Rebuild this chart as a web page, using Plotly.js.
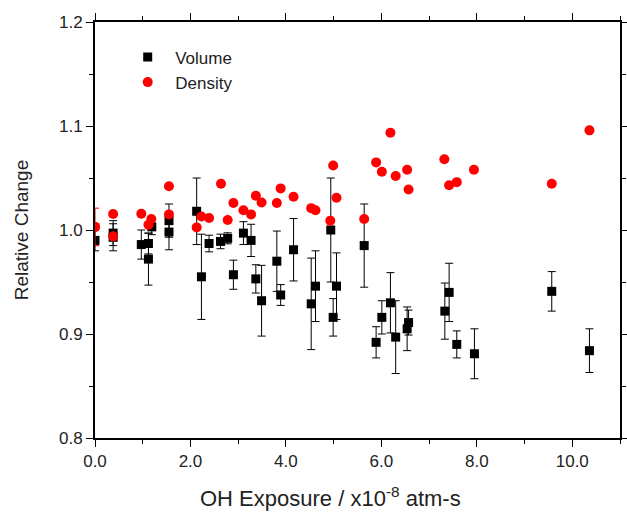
<!DOCTYPE html>
<html>
<head>
<meta charset="utf-8">
<script src="https://cdn.plot.ly/plotly-3.0.1.min.js"></script>
<style>html,body{margin:0;padding:0;background:#fff;}#chart{width:627px;height:513px;}</style>
</head>
<body>
<div id="chart"></div>
<script>
// Volume (black squares) with error bars
const volumeX = [0.0, 0.38, 0.38, 0.97, 1.12, 1.12, 1.19, 1.55, 1.55, 2.13, 2.23, 2.39, 2.63, 2.78, 2.90, 3.11, 3.27, 3.37, 3.49, 3.81, 3.89, 4.16, 4.53, 4.62, 4.94, 4.99, 5.06, 5.64, 5.89, 6.01, 6.19, 6.30, 6.54, 6.57, 7.33, 7.42, 7.58, 7.95, 9.57, 10.36];
const volumeY = [0.990, 0.997, 0.993, 0.986, 0.987, 0.972, 1.003, 1.009, 0.998, 1.018, 0.955, 0.987, 0.989, 0.992, 0.957, 0.997, 0.990, 0.953, 0.932, 0.970, 0.9375, 0.981, 0.929, 0.946, 1.000, 0.916, 0.946, 0.985, 0.892, 0.916, 0.930, 0.897, 0.905, 0.911, 0.922, 0.940, 0.890, 0.881, 0.941, 0.884];
const volumeErr = [0.010, 0.012, 0.013, 0.014, 0.010, 0.025, 0.0075, 0.016, 0.017, 0.032, 0.041, 0.008, 0.007, 0.0053, 0.014, 0.011, 0.0155, 0.0136, 0.034, 0.029, 0.010, 0.030, 0.044, 0.034, 0.050, 0.018, 0.032, 0.040, 0.015, 0.016, 0.029, 0.035, 0.021, 0.012, 0.027, 0.028, 0.013, 0.024, 0.019, 0.021];

// Density (red circles)
const densityX = [0.0, 0.38, 0.38, 0.97, 1.12, 1.18, 1.55, 1.55, 2.13, 2.23, 2.39, 2.64, 2.78, 2.90, 3.11, 3.27, 3.37, 3.49, 3.81, 3.89, 4.16, 4.53, 4.62, 4.93, 4.99, 5.06, 5.64, 5.89, 6.01, 6.19, 6.30, 6.54, 6.57, 7.32, 7.42, 7.58, 7.94, 9.57, 10.36];
const densityY = [1.003, 1.0154, 0.9939, 1.0157, 1.005, 1.0106, 1.042, 1.015, 1.0025, 1.013, 1.0115, 1.0445, 1.0096, 1.026, 1.019, 1.015, 1.033, 1.0265, 1.026, 1.040, 1.032, 1.021, 1.019, 1.009, 1.062, 1.031, 1.0106, 1.065, 1.056, 1.0935, 1.052, 1.058, 1.039, 1.068, 1.043, 1.046, 1.058, 1.0445, 1.0958];
// only the first density point shows an error bar
const densityErrX = [0.0];
const densityErrY = [1.003];
const densityErr = [0.018];

const xTitle = 'OH Exposure / x10<sup>-8</sup> atm-s';
const yTitle = 'Relative Change';

const traces = [
  {
    x: volumeX, y: volumeY, type: 'scatter', mode: 'markers', name: 'Volume',
    marker: {symbol: 'square', size: 9, color: '#000000'},
    error_y: {type: 'data', array: volumeErr, visible: true, color: '#000000', thickness: 1, width: 4}
  },
  {
    x: densityErrX, y: densityErrY, type: 'scatter', mode: 'markers', showlegend: false, hoverinfo: 'skip',
    marker: {symbol: 'circle', size: 10, color: '#ff0000'},
    error_y: {type: 'data', array: densityErr, visible: true, color: '#ff0000', thickness: 1, width: 4}
  },
  {
    x: densityX, y: densityY, type: 'scatter', mode: 'markers', name: 'Density',
    marker: {symbol: 'circle', size: 10, color: '#ff0000'}
  }
];

const axisCommon = {
  showline: true, linecolor: '#000', linewidth: 2, mirror: 'ticks',
  ticks: 'outside', ticklen: 7, tickwidth: 1, tickcolor: '#000',
  showgrid: false, zeroline: false,
  tickfont: {family: 'Liberation Sans, Arial, sans-serif', size: 17, color: '#222'}
};

const layout = {
  width: 627, height: 513,
  margin: {l: 95, r: 7, t: 22, b: 75},
  paper_bgcolor: '#fff', plot_bgcolor: '#fff',
  font: {family: 'Liberation Sans, Arial, sans-serif', color: '#222'},
  showlegend: true,
  legend: {x: 0.048, y: 0.958, xanchor: 'left', yanchor: 'top', bgcolor: 'rgba(0,0,0,0)',
           itemwidth: 45, font: {size: 17, color: '#222'}, tracegroupgap: 0},
  xaxis: Object.assign({}, axisCommon, {
    range: [0, 11], dtick: 2, tick0: 0, tickformat: '.1f',
    minor: {dtick: 1, ticklen: 4, tickcolor: '#000', ticks: 'outside'}
  }),
  yaxis: Object.assign({}, axisCommon, {
    range: [0.8, 1.2], dtick: 0.1, tick0: 0.8, tickformat: '.1f',
    minor: {dtick: 0.05, ticklen: 4, tickcolor: '#000', ticks: 'outside'},
    title: {text: yTitle, font: {size: 19, color: '#222'}, standoff: 25}
  }),
  annotations: [{
    text: xTitle, xref: 'paper', yref: 'paper', x: 0.4495, y: -0.143,
    xanchor: 'center', yanchor: 'middle', showarrow: false,
    font: {size: 22, color: '#222', family: 'Liberation Sans, Arial, sans-serif'}
  }]
};

Plotly.newPlot('chart', traces, layout, {displayModeBar: false, staticPlot: true});
</script>
</body>
</html>
